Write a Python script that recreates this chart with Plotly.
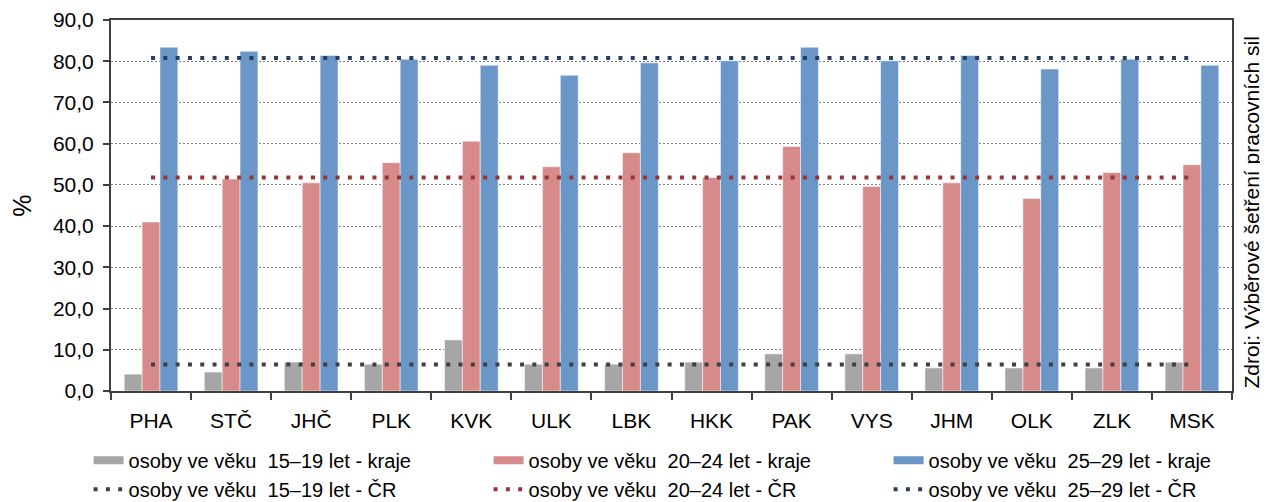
import plotly.graph_objects as go

# Regions of the Czech Republic
regions = ["PHA", "STČ", "JHČ", "PLK", "KVK", "ULK", "LBK", "HKK", "PAK", "VYS", "JHM", "OLK", "ZLK", "MSK"]

# Share (%) by region, per age group
age_15_19 = [4.1, 4.6, 7.0, 6.5, 12.4, 6.5, 6.5, 7.0, 9.0, 9.0, 5.6, 5.6, 5.6, 7.0]
age_20_24 = [41.0, 51.4, 50.5, 55.4, 60.6, 54.4, 57.8, 51.8, 59.3, 49.6, 50.5, 46.7, 53.0, 54.9]
age_25_29 = [83.4, 82.4, 81.4, 80.5, 79.0, 76.6, 79.6, 80.1, 83.4, 80.1, 81.4, 78.1, 80.5, 79.0]

# Czech Republic totals
cr_15_19 = 6.4
cr_20_24 = 51.8
cr_25_29 = 80.8

bar_names = [
    "osoby ve věku\u00a0 15–19 let - kraje",
    "osoby ve věku\u00a0 20–24 let - kraje",
    "osoby ve věku\u00a0 25–29 let - kraje",
]
line_names = [
    "osoby ve věku\u00a0 15–19 let - ČR",
    "osoby ve věku\u00a0 20–24 let - ČR",
    "osoby ve věku\u00a0 25–29 let - ČR",
]

bar_colours = ["#A6A6A6", "#D68A89", "#6A96C8"]
line_colours = ["#404040", "#963634", "#243F63"]

FONT = "Liberation Sans, Arial, sans-serif"

fig = go.Figure()

# Regional bars (legend entries come from dummy line traces below)
for values, colour in zip([age_15_19, age_20_24, age_25_29], bar_colours):
    fig.add_trace(go.Bar(
        x=regions,
        y=values,
        marker=dict(color=colour, line=dict(color="rgba(255,255,255,0.5)", width=1)),
        showlegend=False,
    ))

# Legend-only entries so the bar symbols look like flat wide patches
for rank, (name, colour) in enumerate(zip(bar_names, bar_colours)):
    fig.add_trace(go.Scatter(
        x=[None], y=[None],
        mode="lines",
        line=dict(color=colour, width=8),
        name=name,
        legendrank=rank + 1,
    ))

# National reference levels drawn as dotted lines across the categories
for rank, (level, name, colour) in enumerate(zip([cr_15_19, cr_20_24, cr_25_29], line_names, line_colours)):
    fig.add_trace(go.Scatter(
        x=regions,
        y=[level] * len(regions),
        mode="lines",
        line=dict(color=colour, width=4, dash="4px,8.3px"),
        name=name,
        legendrank=rank + 4,
    ))

# The page body has an 8px margin, so the plot area is offset to compensate
fig.update_layout(
    width=1260,
    height=500,
    margin=dict(l=103, r=36, t=12, b=117, autoexpand=False),
    paper_bgcolor="white",
    plot_bgcolor="white",
    font=dict(family=FONT, size=21, color="black"),
    separators=", ",
    barmode="group",
    bargap=0.33,
    bargroupgap=0,
    legend=dict(
        orientation="h",
        x=-0.02,
        y=-0.134,
        xanchor="left",
        yanchor="top",
        entrywidth=355,
        entrywidthmode="pixels",
        font=dict(size=20),
        traceorder="normal",
        bgcolor="rgba(0,0,0,0)",
        tracegroupgap=0,
    ),
)

fig.update_xaxes(
    type="category",
    tickson="boundaries",
    ticks="outside",
    ticklen=7,
    tickcolor="#404040",
    tickwidth=2,
    ticklabelstandoff=10,
    showline=True,
    linecolor="#404040",
    linewidth=2,
    mirror=True,
    showgrid=False,
)

fig.update_yaxes(
    range=[0, 90],
    dtick=10,
    tickformat=".1f",
    ticks="outside",
    ticklen=6,
    tickcolor="#404040",
    tickwidth=2,
    ticklabelstandoff=5,
    showline=True,
    linecolor="#404040",
    linewidth=2,
    mirror=True,
    zeroline=False,
    showgrid=True,
    gridcolor="#808080",
    gridwidth=1,
    griddash="2px,2px",
    title=dict(text="%", standoff=26),
)

fig.add_annotation(
    text="Zdroj: Výběrové šetření pracovních sil",
    textangle=-90,
    xref="paper", yref="paper",
    x=1.017, y=0,
    xanchor="center", yanchor="bottom",
    showarrow=False,
    font=dict(size=21),
)

fig.write_html("out.html")
